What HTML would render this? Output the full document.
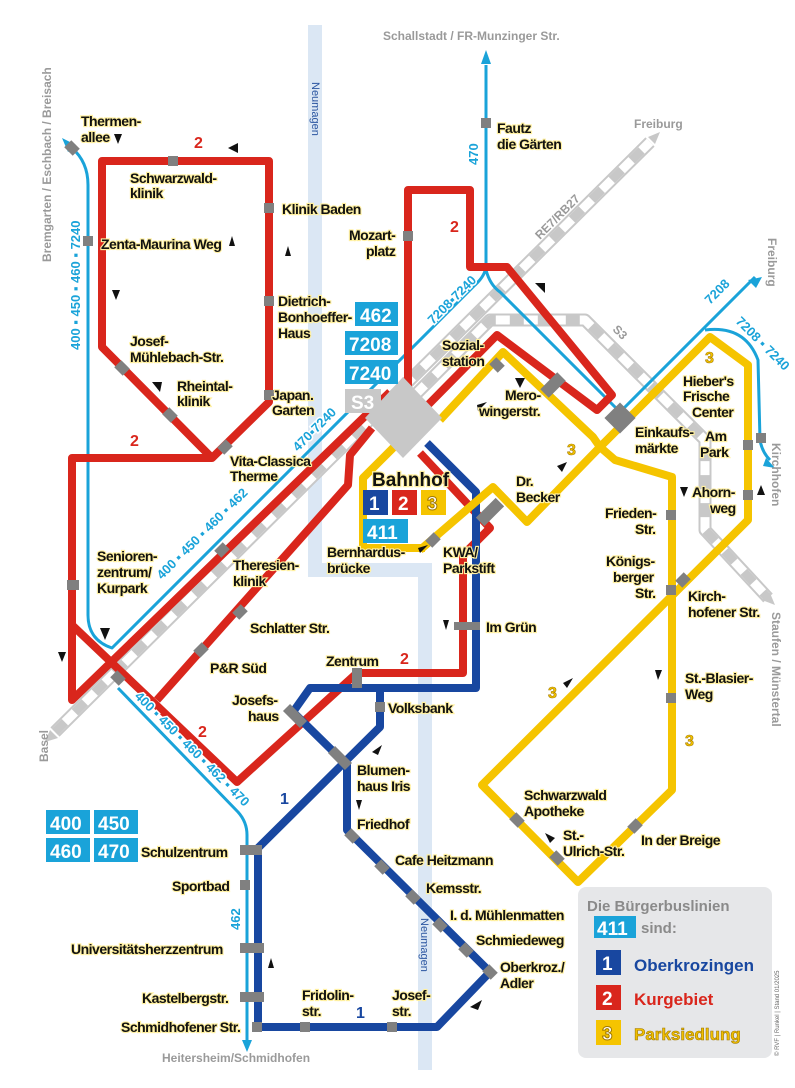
<!DOCTYPE html>
<html><head><meta charset="utf-8"><style>
html,body{margin:0;padding:0;background:#fff;}
svg{display:block;}
.t{font-family:"Liberation Sans",sans-serif;font-weight:bold;font-size:14px;fill:#111;stroke:#fff0a0;stroke-width:2.2;paint-order:stroke;letter-spacing:-0.5px;}
.g{font-family:"Liberation Sans",sans-serif;font-weight:bold;font-size:12px;fill:#9a9a9a;}
.c{font-family:"Liberation Sans",sans-serif;font-weight:bold;font-size:13px;fill:#1aa3d9;stroke:#fff;stroke-width:3;paint-order:stroke;}
.bx{font-family:"Liberation Sans",sans-serif;font-weight:bold;font-size:19px;fill:#fff;}
.n{font-family:"Liberation Sans",sans-serif;font-weight:bold;font-size:17px;}
</style></head><body>
<svg width="795" height="1088" viewBox="0 0 795 1088" xmlns="http://www.w3.org/2000/svg">
<g fill="#dbe7f4">
<rect x="308" y="25" width="14" height="552"/>
<rect x="308" y="563" width="124" height="14"/>
<rect x="418" y="563" width="14" height="507"/>
</g>
<text transform="translate(312,82) rotate(90)" font-family="Liberation Sans" font-size="11" fill="#2a55a0">Neumagen</text>
<text transform="translate(421,918) rotate(90)" font-family="Liberation Sans" font-size="11" fill="#2a55a0">Neumagen</text>

<g fill="none" stroke-linejoin="round">
<path d="M55,732 L650,142" stroke="#c8c8c8" stroke-width="13"/>
<path d="M55,732 L650,142" stroke="#fff" stroke-width="9"/>
<path d="M55,732 L650,142" stroke="#c8c8c8" stroke-width="9" stroke-dasharray="14 14"/>
<path d="M405,405 L490,320 L585,320 L705,440 L705,530 L768,598" stroke="#c8c8c8" stroke-width="13"/>
<path d="M405,405 L490,320 L585,320 L705,440 L705,530 L768,598" stroke="#fff" stroke-width="9"/>
<path d="M405,405 L490,320 L585,320 L705,440 L705,530 L768,598" stroke="#c8c8c8" stroke-width="9" stroke-dasharray="14 14"/>
</g>
<polygon points="45,742 58,738 50,730" fill="#c8c8c8"/>
<polygon points="660,132 648,137 655,144" fill="#c8c8c8"/>
<polygon points="775,605 762,600 770,593" fill="#c8c8c8"/>

<g fill="none" stroke="#1aa3d9" stroke-width="3" stroke-linejoin="round">
<path d="M72,148 Q88,162 88,185 L88,615 Q88,640 112,648 L475,285 Q486,275 486,265 L486,65"/>
<path d="M486,270 Q490,285 500,292 L620,412 L755,277"/>
<path d="M705,330 Q745,325 758,360 L760,440 Q762,452 770,460"/>
<path d="M118,688 L238,812 Q247,822 247,835 L247,1040"/>
</g>
<polygon points="486,50 481,64 491,64" fill="#1aa3d9"/>
<polygon points="62,138 68,152 76,145" fill="#1aa3d9"/>
<polygon points="762,277 748,280 756,288" fill="#1aa3d9"/>
<polygon points="775,468 766,458 763,466" fill="#1aa3d9"/>
<polygon points="247,1052 242,1040 252,1040" fill="#1aa3d9"/>

<g fill="none" stroke="#d9261c" stroke-width="8" stroke-linejoin="round">
<path d="M102,161 L269,161 L269,402 L212,458 L102,347 Z"/>
<path d="M212,458 L72,458 L72,700 L390,392"/>
<path d="M72,625 L237,782 L357,673 L463,673 L463,555 L490,528 L420,453"/>
<path d="M157,700 L348,485 L350,455 L372,428"/>
<path d="M408,410 L408,190 L470,190 L470,267 L507,267 L612,395 L597,410 L497,335 L423,410"/>
</g>

<g fill="none" stroke="#1847a0" stroke-width="8" stroke-linejoin="round">
<path d="M427,443 L476,492 L476,688 L310,688 L293,712 L347,765 L347,830 L490,972 L437,1027 L258,1027 L258,848 L380,727 L380,688"/>
</g>

<g fill="none" stroke="#f5c400" stroke-width="8" stroke-linejoin="round">
<path d="M440,420 L503,352 L593,437 L600,447"/>
<path d="M600,447 L615,460 L672,477 L672,790 L578,882 L482,785 L748,520 L748,365 L710,337 L600,447"/>
<path d="M600,447 L527,522 L493,487 L420,550"/>
<path d="M398,443 L363,478 L363,548 L425,548"/>
</g>

<polygon points="403,377 442,418 403,458 365,418" fill="#c8c8c8"/>

<g fill="#808080">
<rect x="168" y="156" width="10" height="10"/>
<rect x="264" y="203" width="10" height="10"/>
<rect x="264" y="296" width="10" height="10"/>
<rect x="264" y="390" width="10" height="10"/>
<rect x="83" y="236" width="10" height="10"/>
<rect x="403" y="231" width="10" height="10"/>
<rect x="481" y="118" width="10" height="10"/>
<rect x="67" y="580" width="12" height="10"/>
<rect x="454" y="622" width="26" height="8"/>
<rect x="352" y="668" width="10" height="20"/>
<rect x="375" y="702" width="10" height="10"/>
<rect x="666" y="510" width="10" height="10"/>
<rect x="666" y="585" width="10" height="10"/>
<rect x="666" y="693" width="10" height="10"/>
<rect x="743" y="440" width="10" height="10"/>
<rect x="743" y="490" width="10" height="10"/>
<rect x="756" y="433" width="10" height="10"/>
<rect x="240" y="845" width="22" height="10"/>
<rect x="240" y="880" width="10" height="10"/>
<rect x="240" y="943" width="24" height="10"/>
<rect x="240" y="992" width="24" height="10"/>
<rect x="252" y="1022" width="10" height="10"/>
<rect x="300" y="1022" width="10" height="10"/>
<rect x="387" y="1022" width="10" height="10"/>
</g>
<g fill="#808080">
<rect x="-6" y="-5" width="12" height="10" transform="translate(122,368) rotate(45)"/>
<rect x="-6" y="-5" width="12" height="10" transform="translate(170,415) rotate(45)"/>
<rect x="-6" y="-5" width="12" height="10" transform="translate(225,447) rotate(-45)"/>
<rect x="-6" y="-5" width="12" height="10" transform="translate(222,550) rotate(-45)"/>
<rect x="-6" y="-5" width="12" height="10" transform="translate(240,612) rotate(-45)"/>
<rect x="-6" y="-5" width="12" height="10" transform="translate(201,650) rotate(-45)"/>
<rect x="-12" y="-5" width="24" height="10" transform="translate(295,716) rotate(45)"/>
<rect x="-12" y="-5" width="24" height="10" transform="translate(340,758) rotate(45)"/>
<rect x="-6" y="-5" width="12" height="10" transform="translate(352,836) rotate(45)"/>
<rect x="-6" y="-5" width="12" height="10" transform="translate(382,867) rotate(45)"/>
<rect x="-6" y="-5" width="12" height="10" transform="translate(413,897) rotate(45)"/>
<rect x="-6" y="-5" width="12" height="10" transform="translate(440,925) rotate(45)"/>
<rect x="-6" y="-5" width="12" height="10" transform="translate(466,950) rotate(45)"/>
<rect x="-6" y="-5" width="12" height="10" transform="translate(490,972) rotate(45)"/>
<rect x="-6" y="-5" width="12" height="10" transform="translate(517,820) rotate(45)"/>
<rect x="-6" y="-5" width="12" height="10" transform="translate(557,858) rotate(45)"/>
<rect x="-6" y="-5" width="12" height="10" transform="translate(635,826) rotate(-45)"/>
<rect x="-6" y="-5" width="12" height="10" transform="translate(683,580) rotate(-45)"/>
<rect x="-6" y="-5" width="12" height="10" transform="translate(497,365) rotate(45)"/>
<rect x="-12" y="-6" width="24" height="12" transform="translate(553,385) rotate(-45)"/>
<rect x="-11" y="-11" width="22" height="22" transform="translate(620,418) rotate(45)"/>
<rect x="-14" y="-6" width="28" height="12" transform="translate(490,512) rotate(-45)"/>
<rect x="-6" y="-5" width="12" height="10" transform="translate(433,540) rotate(-45)"/>
<rect x="-6" y="-5" width="12" height="10" transform="translate(118,678) rotate(45)"/>
<rect x="-6" y="-5" width="12" height="10" transform="translate(72,148) rotate(45)"/>
</g>

<g fill="#111">
<polygon points="114,134 122,134 118,144"/>
<polygon points="228,148 238,143 238,153"/>
<polygon points="229,246 235,246 232,236"/>
<polygon points="285,256 291,256 288,246"/>
<polygon points="112,290 120,290 116,300"/>
<polygon points="152,382 162,382 160,392"/>
<polygon points="100,628 110,628 105,640"/>
<polygon points="58,652 66,652 62,662"/>
<polygon points="535,283 545,283 545,293"/>
<polygon points="515,378 525,378 520,388"/>
<polygon points="477,405 487,402 478,411"/>
<polygon points="557,466 567,462 562,472"/>
<polygon points="680,487 688,487 684,497"/>
<polygon points="757,495 765,495 761,485"/>
<polygon points="655,670 662,670 658,680"/>
<polygon points="563,683 573,678 567,688"/>
<polygon points="545,833 555,838 550,843"/>
<polygon points="443,620 449,620 446,630"/>
<polygon points="372,752 382,745 378,755"/>
<polygon points="356,800 362,800 359,810"/>
<polygon points="268,968 274,968 271,958"/>
<polygon points="470,1007 482,1000 478,1010"/>
<polygon points="418,548 428,545 420,553"/>
</g>

<g>
<rect x="355" y="302" width="43" height="24" fill="#1aa3d9"/><text class="bx" x="360" y="322">462</text>
<rect x="345" y="331" width="53" height="24" fill="#1aa3d9"/><text class="bx" x="349" y="351">7208</text>
<rect x="345" y="360" width="53" height="24" fill="#1aa3d9"/><text class="bx" x="349" y="380">7240</text>
<rect x="345" y="389" width="36" height="24" fill="#c8c8c8"/><text class="bx" x="351" y="409">S3</text>
<rect x="363" y="490" width="25" height="25" fill="#1847a0"/><text class="bx" x="369" y="510">1</text>
<rect x="392" y="490" width="25" height="25" fill="#d9261c"/><text class="bx" x="398" y="510">2</text>
<rect x="421" y="490" width="25" height="25" fill="#f5c400"/><text class="bx" x="427" y="510" stroke="#a07800" stroke-width="1">3</text>
<rect x="363" y="519" width="45" height="24" fill="#1aa3d9"/><text class="bx" x="367" y="539">411</text>
<rect x="46" y="810" width="44" height="24" fill="#1aa3d9"/><text class="bx" x="50" y="830">400</text>
<rect x="94" y="810" width="44" height="24" fill="#1aa3d9"/><text class="bx" x="98" y="830">450</text>
<rect x="46" y="838" width="44" height="24" fill="#1aa3d9"/><text class="bx" x="50" y="858">460</text>
<rect x="94" y="838" width="44" height="24" fill="#1aa3d9"/><text class="bx" x="98" y="858">470</text>
</g>
<text x="372" y="486" font-family="Liberation Sans" font-weight="bold" font-size="19" fill="#111" stroke="#fff0a0" stroke-width="2.5" paint-order="stroke">Bahnhof</text>

<rect x="578" y="887" width="194" height="171" rx="8" fill="#e6e7e9"/>
<text x="587" y="911" font-family="Liberation Sans" font-weight="bold" font-size="15" fill="#8a8a8a">Die Bürgerbuslinien</text>
<rect x="594" y="916" width="42" height="22" fill="#1aa3d9"/><text class="bx" x="597" y="935">411</text>
<text x="641" y="933" font-family="Liberation Sans" font-weight="bold" font-size="15" fill="#8a8a8a">sind:</text>
<rect x="596" y="950" width="25" height="25" fill="#1847a0"/><text class="bx" x="602" y="970">1</text>
<text class="n" x="634" y="971" fill="#1847a0">Oberkrozingen</text>
<rect x="596" y="985" width="25" height="25" fill="#d9261c"/><text class="bx" x="602" y="1005">2</text>
<text class="n" x="634" y="1005" fill="#d9261c">Kurgebiet</text>
<rect x="596" y="1020" width="25" height="25" fill="#f5c400"/><text class="bx" x="602" y="1040" stroke="#a07800" stroke-width="1">3</text>
<text class="n" x="634" y="1040" fill="#f0c000" stroke="#a07800" stroke-width="0.6">Parksiedlung</text>
<text transform="translate(779,1056) rotate(-90)" font-family="Liberation Sans" font-size="6" fill="#666">© RVF | Runkel | Stand 01/2025</text>

<g font-family="Liberation Sans" font-weight="bold" font-size="16" fill="#d9261c">
<text x="194" y="148">2</text><text x="450" y="232">2</text><text x="130" y="446">2</text>
<text x="400" y="664">2</text><text x="198" y="737">2</text>
</g>
<g font-family="Liberation Sans" font-weight="bold" font-size="16" fill="#1847a0">
<text x="280" y="804">1</text><text x="356" y="1018">1</text>
</g>
<g font-family="Liberation Sans" font-weight="bold" font-size="16" fill="#f5c400" stroke="#a07800" stroke-width="0.6">
<text x="705" y="363">3</text><text x="567" y="455">3</text><text x="548" y="698">3</text><text x="685" y="746">3</text>
</g>

<text class="c" transform="translate(80,350) rotate(-90)">400 ▪ 450 ▪ 460 ▪ 7240</text>
<text class="c" transform="translate(478,165) rotate(-90)">470</text>
<text class="c" transform="translate(433,325) rotate(-45)">7208▪7240</text>
<text class="c" transform="translate(298,452) rotate(-45)">470▪7240</text>
<text class="c" transform="translate(162,580) rotate(-45)">400 ▪ 450 ▪ 460 ▪ 462</text>
<text class="c" transform="translate(134,697) rotate(45)">400 ▪ 450 ▪ 460 ▪ 462 ▪ 470</text>
<text class="c" transform="translate(240,930) rotate(-90)">462</text>
<text class="c" transform="translate(710,305) rotate(-45)">7208</text>
<text class="c" transform="translate(735,322) rotate(45)">7208 ▪ 7240</text>

<text class="g" x="383" y="40">Schallstadt / FR-Munzinger Str.</text>
<text class="g" x="634" y="128">Freiburg</text>
<text class="g" transform="translate(768,238) rotate(90)">Freiburg</text>
<text class="g" transform="translate(772,443) rotate(90)">Kirchhofen</text>
<text class="g" transform="translate(772,612) rotate(90)">Staufen / Münstertal</text>
<text class="g" transform="translate(51,262) rotate(-90)">Bremgarten / Eschbach / Breisach</text>
<text class="g" transform="translate(48,762) rotate(-90)">Basel</text>
<text class="g" x="162" y="1062">Heitersheim/Schmidhofen</text>
<text class="g" transform="translate(540,240) rotate(-45)">RE7/RB27</text>
<text class="g" transform="translate(612,330) rotate(45)">S3</text>

<g class="t">
<text x="81" y="126">Thermen-</text><text x="81" y="142">allee</text>
<text x="130" y="183">Schwarzwald-</text><text x="130" y="198">klinik</text>
<text x="282" y="214">Klinik Baden</text>
<text x="101" y="249">Zenta-Maurina Weg</text>
<text x="278" y="306">Dietrich-</text><text x="278" y="322">Bonhoeffer-</text><text x="278" y="338">Haus</text>
<text x="130" y="346">Josef-</text><text x="130" y="362">Mühlebach-Str.</text>
<text x="177" y="391">Rheintal-</text><text x="177" y="406">klinik</text>
<text x="272" y="400">Japan.</text><text x="272" y="415">Garten</text>
<text x="230" y="466">Vita-Classica</text><text x="230" y="481">Therme</text>
<text x="349" y="240">Mozart-</text><text x="366" y="256">platz</text>
<text x="497" y="133">Fautz</text><text x="497" y="149">die Gärten</text>
<text x="442" y="350">Sozial-</text><text x="442" y="366">station</text>
<text x="505" y="400">Mero-</text><text x="479" y="416">wingerstr.</text>
<text x="635" y="437">Einkaufs-</text><text x="635" y="453">märkte</text>
<text x="683" y="386">Hieber's</text><text x="683" y="401">Frische</text><text x="692" y="417">Center</text>
<text x="705" y="441">Am</text><text x="700" y="457">Park</text>
<text x="692" y="497">Ahorn-</text><text x="710" y="513">weg</text>
<text x="516" y="486">Dr.</text><text x="516" y="502">Becker</text>
<text x="605" y="518">Frieden-</text><text x="635" y="534">Str.</text>
<text x="606" y="566">Königs-</text><text x="613" y="582">berger</text><text x="635" y="598">Str.</text>
<text x="688" y="601">Kirch-</text><text x="688" y="617">hofener Str.</text>
<text x="97" y="561">Senioren-</text><text x="97" y="577">zentrum/</text><text x="97" y="593">Kurpark</text>
<text x="233" y="570">Theresien-</text><text x="233" y="586">klinik</text>
<text x="327" y="557">Bernhardus-</text><text x="327" y="573">brücke</text>
<text x="443" y="557">KWA/</text><text x="443" y="573">Parkstift</text>
<text x="250" y="633">Schlatter Str.</text>
<text x="486" y="632">Im Grün</text>
<text x="210" y="673">P&amp;R Süd</text>
<text x="326" y="666">Zentrum</text>
<text x="232" y="705">Josefs-</text><text x="248" y="721">haus</text>
<text x="388" y="713">Volksbank</text>
<text x="357" y="775">Blumen-</text><text x="357" y="791">haus Iris</text>
<text x="357" y="829">Friedhof</text>
<text x="395" y="865">Cafe Heitzmann</text>
<text x="426" y="893">Kemsstr.</text>
<text x="450" y="920">I. d. Mühlenmatten</text>
<text x="476" y="945">Schmiedeweg</text>
<text x="500" y="972">Oberkroz./</text><text x="500" y="988">Adler</text>
<text x="685" y="683">St.-Blasier-</text><text x="685" y="699">Weg</text>
<text x="524" y="800">Schwarzwald</text><text x="524" y="816">Apotheke</text>
<text x="563" y="840">St.-</text><text x="563" y="856">Ulrich-Str.</text>
<text x="641" y="845">In der Breige</text>
<text x="141" y="857">Schulzentrum</text>
<text x="172" y="891">Sportbad</text>
<text x="71" y="954">Universitätsherzzentrum</text>
<text x="142" y="1003">Kastelbergstr.</text>
<text x="121" y="1032">Schmidhofener Str.</text>
<text x="302" y="1000">Fridolin-</text><text x="302" y="1016">str.</text>
<text x="392" y="1000">Josef-</text><text x="392" y="1016">str.</text>
</g>
</svg>
</body></html>
